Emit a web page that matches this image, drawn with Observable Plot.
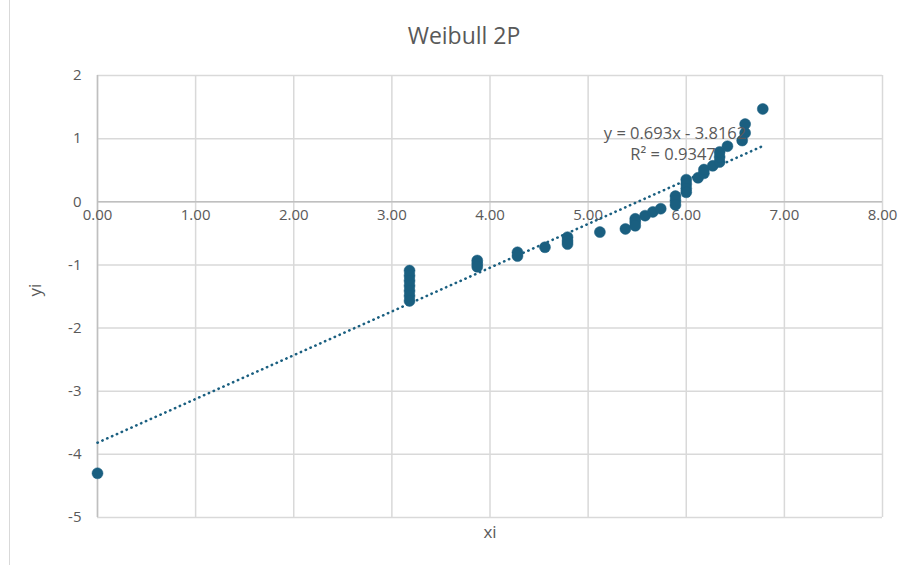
<!DOCTYPE html>
<html>
<head>
<meta charset="utf-8">
<script src="https://cdn.jsdelivr.net/npm/d3@7"></script>
<script src="https://cdn.jsdelivr.net/npm/@observablehq/plot@0.6"></script>
<style>
  html, body { margin: 0; padding: 0; background: #fff; }
  #wrap { position: relative; width: 906px; height: 565px; overflow: hidden; font-family: "Open Sans", sans-serif; }
  #border { position: absolute; left: 9px; top: 0; width: 1px; height: 565px; background: #d9d9d9; }
  #title { height: 60px; width: 906px; box-sizing: border-box; padding-left: 22px; text-align: center;
           font-size: 23px; line-height: 70px; color: #595959; }
  #chart svg { display: block; }
</style>
</head>
<body>
<div id="wrap">
  <div id="border"></div>
  <div id="title">Weibull 2P</div>
  <div id="chart"></div>
</div>
<script>
// Data
const xi = [0,
  3.18, 3.18, 3.18, 3.18, 3.18, 3.18, 3.18,
  3.87, 3.87, 3.87,
  4.28, 4.28,
  4.56,
  4.79, 4.79, 4.79,
  5.12,
  5.38,
  5.48, 5.48, 5.48,
  5.58, 5.66, 5.74,
  5.89, 5.89, 5.89,
  6.00, 6.00, 6.00, 6.00,
  6.12, 6.18, 6.18, 6.27,
  6.34, 6.34, 6.34,
  6.42, 6.57, 6.60, 6.60, 6.78];
const yi = [-4.30,
  -1.09, -1.17, -1.25, -1.33, -1.41, -1.49, -1.57,
  -0.93, -0.98, -1.03,
  -0.80, -0.86,
  -0.72,
  -0.56, -0.62, -0.67,
  -0.48,
  -0.43,
  -0.27, -0.32, -0.38,
  -0.22, -0.16, -0.11,
  0.09, 0.02, -0.05,
  0.35, 0.28, 0.21, 0.15,
  0.38, 0.45, 0.51, 0.57,
  0.63, 0.71, 0.79,
  0.88, 0.97, 1.09, 1.23, 1.47];
const trendSlope = 0.693;
const trendIntercept = -3.8162;
const trendRange = [0, 6.78];
const xTicks = [0, 1, 2, 3, 4, 5, 6, 7, 8];
const yTicks = [-5, -4, -3, -2, -1, 0, 1, 2];
const eqLabels = ["y = 0.693x - 3.8162", "R² = 0.9347"];
const eqX = [5.16, 5.43];
const eqY = [1.08, 0.745];

const points = xi.map((x, i) => ({x, y: yi[i]}));
const trend = trendRange.map(x => ({x, y: trendSlope * x + trendIntercept}));
const eq = eqLabels.map((t, i) => ({t, x: eqX[i], y: eqY[i]}));

const color = "#1a5f80";
const textColor = "#595959";

const chart = Plot.plot({
  width: 906,
  height: 505,
  marginLeft: 97,
  marginRight: 24,
  marginTop: 15,
  marginBottom: 48,
  style: { fontFamily: "Open Sans, sans-serif", fontSize: "15px", color: textColor, background: "#fff" },
  x: { domain: [0, 8], ticks: xTicks },
  y: { domain: [-5, 2], ticks: yTicks },
  marks: [
    Plot.gridX(xTicks, { stroke: "#d9d9d9", strokeOpacity: 1, strokeWidth: 1.5 }),
    Plot.gridY(yTicks, { stroke: "#d9d9d9", strokeOpacity: 1, strokeWidth: 1.5 }),
    Plot.ruleY([0], { stroke: "#bfbfbf", strokeWidth: 1.5 }),
    Plot.ruleX([0], { stroke: "#bfbfbf", strokeWidth: 1.5 }),
    Plot.axisY(yTicks, { tickSize: 0, tickPadding: 16, tickFormat: d => d < 0 ? "-" + Math.abs(d) : String(d), fill: textColor, fontSize: 15, label: null }),
    Plot.axisX([], { tickSize: 0, label: null }),
    Plot.text(xTicks, { x: d => d, y: () => 0, text: d => d.toFixed(2), dy: 13, fill: textColor, fontSize: 15 }),
    Plot.text(["xi"], { frameAnchor: "bottom", dy: 15, fill: textColor, fontSize: 17, lineAnchor: "middle" }),
    Plot.text(["yi"], { frameAnchor: "left", dx: -62, rotate: -90, fill: textColor, fontSize: 17 }),
    Plot.line(trend, { x: "x", y: "y", stroke: color, strokeWidth: 2.6, strokeDasharray: "0.3 5", strokeLinecap: "round" }),
    Plot.dot(points, { x: "x", y: "y", r: 5.5, fill: color, stroke: color, strokeWidth: 0.5 }),
    Plot.text(eq, { x: "x", y: "y", text: "t", textAnchor: "start", fill: textColor, fontSize: 16.5 })
  ]
});
document.getElementById("chart").appendChild(chart);
</script>
</body>
</html>
